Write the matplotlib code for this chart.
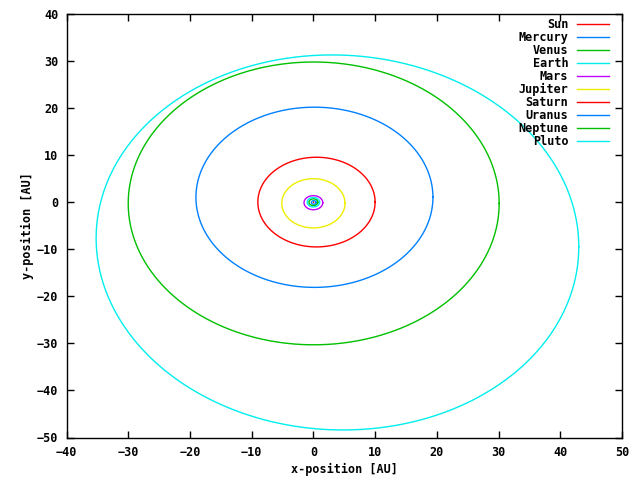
import numpy as np
import matplotlib.pyplot as plt

# orbit shapes (AU): centre, half widths, small tilt phase
planets = ['Sun', 'Mercury', 'Venus', 'Earth', 'Mars',
           'Jupiter', 'Saturn', 'Uranus', 'Neptune', 'Pluto']
cen_x  = [0.0, 0.06, 0.0, 0.0, 0.0, 0.0, 0.5, 0.17, 0.05, 3.9]
cen_y  = [0.0, -0.05, 0.0, 0.0, -0.1, -0.23, 0.03, 1.05, -0.25, -8.55]
semi_x = [0.01, 0.39, 0.72, 1.0, 1.52, 5.12, 9.5, 19.2, 30.05, 39.1]
semi_y = [0.01, 0.38, 0.72, 1.0, 1.5, 5.23, 9.53, 19.15, 30.05, 39.85]
phase  = [0.0, 0.0, 0.0, 0.0, 0.0, 0.0, 0.0, 0.0, 0.0, -0.023]

colors = ['#ff0000', '#0080ff', '#00c000', '#00eeee', '#c000ff',
          '#eeee00', '#ff0000', '#0080ff', '#00c000', '#00eeee']

plt.rcParams['font.family'] = 'DejaVu Sans Mono'
plt.rcParams['font.weight'] = 'bold'
plt.rcParams['font.size'] = 8.5

fig = plt.figure(figsize=(6.4, 4.8), dpi=100)
ax = fig.add_axes([66.5/640, 1-437.5/480, (622-66.5)/640, (437.5-14)/480])

t = np.linspace(0, 2*np.pi, 721)
for i, name in enumerate(planets):
    x = cen_x[i] + semi_x[i]*np.cos(t)
    y = cen_y[i] + semi_y[i]*np.sin(t + phase[i])
    ax.plot(x, y, color=colors[i], lw=1.0, label=name)

ax.set_xlim(-40, 50); ax.set_ylim(-50, 40)
ax.set_xticks(range(-40, 51, 10)); ax.set_yticks(range(-50, 41, 10))
ax.tick_params(direction='in', top=True, right=True, length=5, width=1,
               labelsize=8.5, pad=6)
for s in ax.spines.values():
    s.set_linewidth(1)

ax.set_xlabel('x-position [AU]', fontweight='bold', labelpad=3)
ax.set_ylabel('y-position [AU]', fontweight='bold', labelpad=2)

ax.legend(loc='upper right', bbox_to_anchor=(609/640, 1-18/480),
          bbox_transform=fig.transFigure, frameon=False, markerfirst=False,
          handlelength=2.7, handletextpad=0.75, labelspacing=0.0,
          borderpad=0, borderaxespad=0, fontsize=8.5)

fig.savefig('out.png', dpi=100)
